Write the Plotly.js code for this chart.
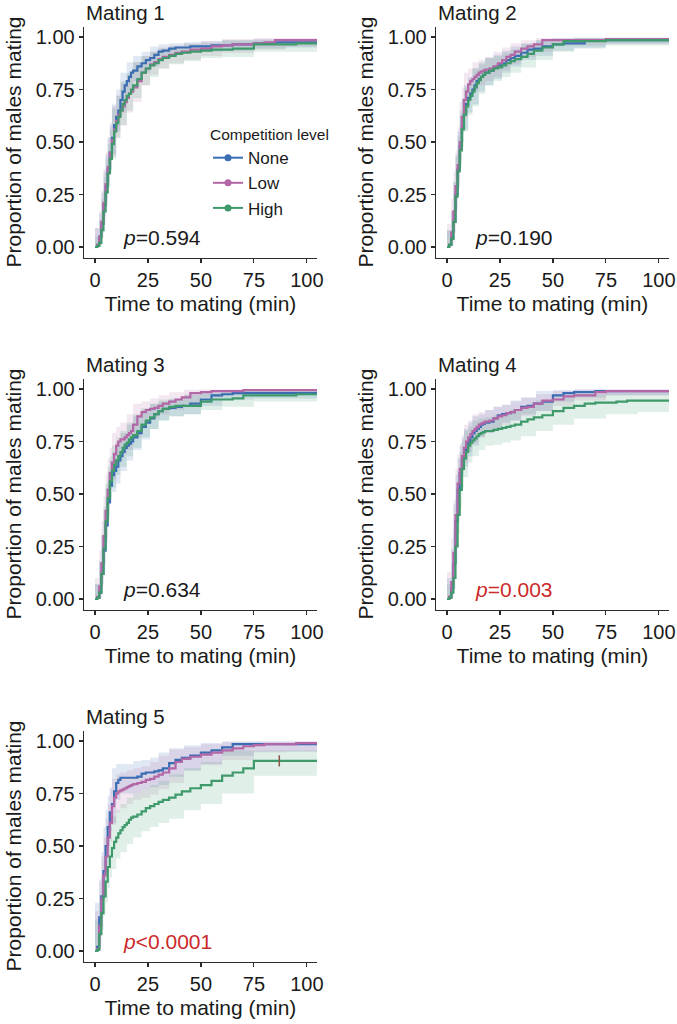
<!DOCTYPE html>
<html>
<head>
<meta charset="utf-8">
<script src="https://cdn.plot.ly/plotly-3.0.1.min.js"></script>
<style>html,body{margin:0;padding:0;background:#fff}#chart{width:677px;height:1024px}</style>
</head>
<body>
<div id="chart"></div>
<script>
// ---------- data ----------
const groups = ['None', 'Low', 'High'];
const panelTitles = ['Mating 1', 'Mating 2', 'Mating 3', 'Mating 4', 'Mating 5'];
const pTexts = ['=0.594', '=0.190', '=0.634', '=0.003', '<0.0001'];
const xTicks = [0, 25, 50, 75, 100];
const yTicks = [0, 0.25, 0.5, 0.75, 1];
const yTickText = ['0.00', '0.25', '0.50', '0.75', '1.00'];

// time grid for the step curves (min)
const T = [0,1,2,3,4,5,6,7,8,9,10,11,12,13,14,15,16,17,18,20,22,24,26,28,30,32,35,38,41,45,50,55,60,65,70,75,80,85,90,95,105];
// time grid for the confidence bands (min)
const CB = [0,2,3,4,5,6,7,8,10,12,15,18,22,26,30,35,42,50,60,75,90,105];

// Mating 1
const m1None = [0,.01,.05,.11,.2,.29,.37,.45,.52,.58,.62,.65,.70,.74,.77,.79,.81,.83,.84,.86,.875,.89,.90,.915,.93,.935,.945,.95,.95,.955,.955,.96,.96,.965,.965,.97,.97,.975,.975,.975,.975];
const m1Low  = [0,.01,.05,.12,.21,.3,.38,.45,.51,.56,.6,.63,.65,.67,.69,.71,.73,.74,.76,.79,.83,.85,.87,.88,.895,.905,.915,.925,.93,.94,.945,.955,.96,.965,.965,.97,.975,.985,.985,.985,.985];
const m1High = [0,.005,.02,.08,.17,.26,.35,.42,.49,.55,.59,.62,.65,.68,.70,.72,.73,.75,.77,.80,.83,.85,.865,.875,.89,.90,.91,.92,.925,.93,.935,.94,.94,.945,.945,.965,.965,.965,.965,.97,.97];
const m1NoneLo = [0,.02,.07,.14,.22,.29,.37,.44,.55,.64,.74,.79,.83,.86,.90,.915,.925,.93,.935,.945,.95,.95];
const m1NoneHi = [0,.09,.16,.26,.36,.44,.52,.59,.68,.75,.83,.88,.91,.93,.955,.965,.97,.975,.98,.985,.99,.99];
const m1LowLo  = [0,.02,.07,.15,.23,.31,.37,.43,.52,.58,.64,.69,.77,.82,.85,.875,.89,.91,.925,.94,.955,.955];
const m1LowHi  = [0,.09,.17,.27,.37,.45,.52,.58,.67,.72,.78,.82,.88,.91,.93,.95,.96,.97,.98,.99,.995,.995];
const m1HighLo = [0,0,.04,.11,.19,.28,.35,.42,.52,.58,.65,.71,.77,.81,.85,.87,.885,.9,.905,.93,.93,.935];
const m1HighHi = [0,.05,.13,.23,.33,.42,.49,.56,.66,.72,.79,.83,.88,.91,.93,.945,.955,.965,.97,.985,.985,.99];

// Mating 2
const m2None = [0,.01,.04,.12,.25,.37,.48,.58,.64,.68,.71,.73,.75,.77,.79,.8,.81,.82,.83,.84,.855,.865,.875,.89,.9,.91,.925,.94,.945,.955,.965,.97,.97,.985,.985,.985,.985,.985,.985,.985,.985];
const m2Low  = [0,.01,.07,.17,.29,.39,.5,.62,.7,.74,.775,.79,.8,.81,.82,.83,.835,.84,.845,.85,.86,.875,.89,.905,.915,.93,.945,.955,.965,.985,.985,.985,.985,.985,.985,.99,.99,.99,.99,.99,.99];
const m2High = [0,.01,.04,.12,.24,.36,.46,.56,.63,.67,.7,.72,.74,.76,.78,.795,.81,.82,.83,.84,.85,.855,.865,.875,.885,.895,.905,.92,.935,.95,.965,.98,.98,.98,.98,.985,.985,.985,.985,.985,.985];
const m2NoneLo = [0,.01,.07,.18,.29,.40,.5,.56,.64,.68,.74,.77,.8,.83,.86,.89,.91,.935,.945,.965,.965,.965];
const m2NoneHi = [0,.08,.17,.31,.44,.55,.65,.71,.77,.81,.85,.87,.9,.915,.935,.955,.97,.985,.99,.995,.995,.995];
const m2LowLo  = [0,.03,.11,.22,.32,.42,.54,.62,.71,.74,.77,.79,.81,.84,.87,.905,.93,.96,.96,.97,.97,.97];
const m2LowHi  = [0,.11,.23,.36,.46,.57,.69,.76,.83,.85,.88,.89,.905,.93,.95,.97,.985,.995,.995,.998,.998,.998];
const m2HighLo = [0,.01,.07,.17,.28,.38,.48,.55,.63,.67,.73,.77,.79,.81,.83,.855,.89,.93,.95,.96,.96,.96];
const m2HighHi = [0,.08,.17,.31,.43,.53,.63,.7,.76,.8,.85,.88,.9,.91,.925,.94,.965,.985,.995,.995,.995,.995];

// Mating 3
const m3None = [0,.005,.03,.12,.23,.35,.46,.54,.59,.61,.63,.66,.68,.7,.72,.73,.74,.75,.77,.79,.82,.84,.86,.88,.895,.905,.91,.915,.92,.93,.95,.97,.975,.98,.98,.98,.98,.98,.98,.98,.98];
const m3Low  = [0,.01,.06,.17,.3,.42,.52,.6,.65,.69,.73,.75,.76,.76,.77,.78,.79,.8,.83,.87,.89,.9,.905,.91,.92,.93,.94,.95,.96,.98,.985,.99,.99,.99,.995,.995,.995,.995,.995,.995,.995];
const m3High = [0,.005,.03,.12,.24,.37,.48,.56,.61,.64,.66,.68,.7,.72,.735,.745,.76,.77,.78,.8,.83,.85,.865,.88,.895,.905,.915,.92,.92,.92,.94,.95,.95,.955,.97,.97,.97,.97,.97,.975,.975];
const m3NoneLo = [0,0,.07,.16,.27,.38,.46,.51,.55,.61,.66,.71,.76,.81,.85,.87,.88,.92,.95,.955,.955,.955];
const m3NoneHi = [0,.07,.18,.3,.42,.53,.61,.66,.7,.75,.79,.83,.87,.9,.93,.94,.95,.975,.99,.995,.995,.995];
const m3LowLo  = [0,.02,.1,.22,.34,.44,.52,.57,.65,.69,.71,.77,.84,.86,.88,.9,.93,.96,.97,.975,.975,.975];
const m3LowHi  = [0,.1,.23,.37,.49,.59,.67,.72,.79,.82,.84,.88,.93,.94,.955,.97,.985,.997,.998,.999,.999,.999];
const m3HighLo = [0,0,.07,.17,.29,.4,.48,.53,.59,.63,.68,.72,.77,.81,.85,.87,.88,.9,.915,.94,.94,.945];
const m3HighHi = [0,.07,.18,.31,.44,.55,.63,.68,.73,.77,.8,.84,.88,.91,.93,.95,.955,.97,.98,.99,.99,.995];

// Mating 4
const m4None = [0,.01,.05,.17,.37,.52,.6,.66,.7,.72,.75,.77,.79,.8,.81,.82,.83,.835,.84,.845,.86,.875,.88,.885,.89,.9,.915,.92,.93,.94,.97,.98,.985,.985,.99,.99,.99,.99,.99,.99,.99];
const m4Low  = [0,.01,.08,.22,.4,.55,.62,.68,.72,.75,.77,.785,.8,.81,.82,.83,.835,.84,.845,.85,.86,.87,.875,.885,.89,.9,.91,.915,.93,.945,.95,.965,.97,.97,.985,.99,.99,.99,.99,.99,.99];
const m4High = [0,.005,.03,.1,.25,.4,.52,.62,.67,.7,.73,.745,.755,.765,.775,.785,.79,.795,.8,.8,.805,.81,.815,.82,.825,.83,.845,.855,.865,.875,.895,.91,.92,.93,.935,.935,.94,.945,.945,.945,.945];
const m4NoneLo = [0,.01,.1,.29,.44,.52,.58,.63,.68,.73,.77,.79,.81,.84,.85,.88,.895,.94,.96,.97,.97,.97];
const m4NoneHi = [0,.1,.24,.45,.59,.67,.73,.77,.81,.84,.87,.88,.9,.915,.925,.945,.96,.99,.995,.998,.998,.998];
const m4LowLo  = [0,.03,.15,.32,.47,.54,.6,.65,.7,.74,.77,.79,.81,.83,.85,.87,.895,.92,.945,.97,.97,.97];
const m4LowHi  = [0,.13,.29,.47,.62,.69,.74,.78,.83,.85,.88,.89,.9,.915,.925,.94,.96,.975,.99,.998,.998,.998];
const m4HighLo = [0,0,.05,.17,.31,.43,.53,.58,.65,.68,.71,.73,.735,.745,.755,.775,.8,.83,.86,.88,.89,.89];
const m4HighHi = [0,.07,.16,.33,.48,.6,.7,.75,.8,.82,.85,.86,.865,.875,.885,.9,.92,.945,.96,.975,.98,.98];

// Mating 5
const m5None = [0,.02,.16,.26,.38,.5,.59,.66,.7,.76,.8,.815,.825,.825,.825,.825,.825,.825,.825,.83,.845,.85,.85,.855,.86,.87,.895,.91,.92,.93,.945,.955,.97,.985,.985,.985,.985,.985,.985,.985,.985];
const m5Low  = [0,.01,.12,.25,.36,.45,.54,.61,.69,.73,.75,.76,.765,.77,.775,.78,.785,.79,.795,.8,.805,.815,.82,.83,.84,.85,.87,.9,.915,.925,.935,.945,.955,.965,.975,.98,.985,.985,.985,.99,.99];
const m5High = [0,.005,.08,.18,.26,.33,.4,.45,.49,.52,.54,.56,.575,.59,.6,.61,.625,.635,.64,.65,.665,.68,.69,.70,.71,.72,.73,.745,.76,.775,.79,.81,.835,.85,.87,.905,.905,.905,.905,.905,.905];
const m5NoneLo = [0,.09,.18,.29,.41,.5,.57,.61,.72,.75,.75,.75,.77,.78,.79,.83,.86,.89,.93,.95,.95,.95];
const m5NoneHi = [0,.23,.34,.47,.59,.67,.74,.78,.87,.89,.89,.89,.905,.91,.92,.945,.965,.98,.99,.998,.998,.998];
const m5LowLo  = [0,.06,.17,.27,.36,.45,.52,.6,.66,.68,.7,.72,.73,.745,.77,.8,.86,.885,.91,.945,.95,.96];
const m5LowHi  = [0,.19,.33,.45,.54,.63,.7,.77,.82,.84,.85,.86,.87,.88,.9,.93,.96,.97,.985,.995,.998,.998];
const m5HighLo = [0,.02,.1,.17,.23,.3,.35,.39,.44,.47,.51,.54,.57,.59,.61,.63,.67,.7,.75,.835,.835,.835];
const m5HighHi = [0,.15,.26,.35,.43,.5,.55,.59,.64,.67,.7,.73,.75,.77,.79,.81,.84,.87,.9,.955,.955,.955];
const m5HighCensorT = [87];
const m5HighCensorS = [0.905];

// ---------- assembly ----------
const curves = [
  [m1None, m1Low, m1High], [m2None, m2Low, m2High], [m3None, m3Low, m3High],
  [m4None, m4Low, m4High], [m5None, m5Low, m5High]
];
const bands = [
  [[m1NoneLo, m1NoneHi], [m1LowLo, m1LowHi], [m1HighLo, m1HighHi]],
  [[m2NoneLo, m2NoneHi], [m2LowLo, m2LowHi], [m2HighLo, m2HighHi]],
  [[m3NoneLo, m3NoneHi], [m3LowLo, m3LowHi], [m3HighLo, m3HighHi]],
  [[m4NoneLo, m4NoneHi], [m4LowLo, m4LowHi], [m4HighLo, m4HighHi]],
  [[m5NoneLo, m5NoneHi], [m5LowLo, m5LowHi], [m5HighLo, m5HighHi]]
];
const colors = ['#3b6db3', '#b367a6', '#3e9a6b'];
const fills = ['rgba(59,109,179,0.16)', 'rgba(179,103,166,0.16)', 'rgba(62,154,107,0.16)'];
const pColors = ['#1a1a1a', '#1a1a1a', '#1a1a1a', '#cc2a2a', '#cc2a2a'];

const W = 677, H = 1024;
const colPx = [[84, 317], [436, 669]];
const rowPx = [[26.5, 257.5], [378.5, 609.5], [730.5, 961.5]];
const fx = p => p / W, fy = p => 1 - p / H;

const FONT = 'Liberation Sans, Arial, Helvetica, sans-serif';
const data = [];
const layout = {
  width: W, height: H,
  margin: {l: 0, r: 0, t: 0, b: 0},
  paper_bgcolor: '#ffffff', plot_bgcolor: '#ffffff',
  font: {family: FONT, color: '#1a1a1a'},
  showlegend: true,
  legend: {
    x: fx(208), y: fy(120), xanchor: 'left', yanchor: 'top',
    bgcolor: 'rgba(0,0,0,0)',
    title: {text: 'Competition level', font: {size: 15.5, color: '#1a1a1a'}},
    font: {size: 17, color: '#1a1a1a'},
    itemwidth: 30, tracegroupgap: 0
  },
  annotations: []
};

for (let k = 0; k < 5; k++) {
  const row = Math.floor(k / 2), col = k % 2;
  const sx = k === 0 ? '' : String(k + 1);
  const xa = 'x' + sx, ya = 'y' + sx;
  const axx = 'xaxis' + sx, axy = 'yaxis' + sx;
  layout[axx] = {
    domain: [fx(colPx[col][0]), fx(colPx[col][1])], anchor: ya,
    range: [-5.2, 104.8], tickvals: xTicks, ticktext: xTicks.map(String),
    showline: true, linecolor: '#2b2b2b', linewidth: 1.3,
    ticks: 'outside', ticklen: 4, tickwidth: 1.2, tickcolor: '#2b2b2b',
    showgrid: false, zeroline: false,
    tickfont: {size: 20, color: '#1a1a1a'},
    title: {text: 'Time to mating (min)', font: {size: 21, color: '#1a1a1a'}, standoff: 6}
  };
  layout[axy] = {
    domain: [fy(rowPx[row][1]), fy(rowPx[row][0])], anchor: xa,
    range: [-0.05, 1.05], tickvals: yTicks, ticktext: yTickText,
    showline: true, linecolor: '#2b2b2b', linewidth: 1.3,
    ticks: 'outside', ticklen: 4, tickwidth: 1.2, tickcolor: '#2b2b2b',
    showgrid: false, zeroline: false,
    tickfont: {size: 20, color: '#1a1a1a'},
    title: {text: 'Proportion of males mating', font: {size: 21, color: '#1a1a1a'}, standoff: 8}
  };
  // bands
  for (let g = 0; g < 3; g++) {
    data.push({x: CB, y: bands[k][g][0], xaxis: xa, yaxis: ya, mode: 'lines',
      line: {width: 0, shape: 'hv'}, showlegend: false, hoverinfo: 'skip'});
    data.push({x: CB, y: bands[k][g][1], xaxis: xa, yaxis: ya, mode: 'lines',
      line: {width: 0, shape: 'vh'}, fill: 'tonexty', fillcolor: fills[g],
      showlegend: false, hoverinfo: 'skip'});
  }
  // curves
  for (let g = 0; g < 3; g++) {
    data.push({x: T, y: curves[k][g], xaxis: xa, yaxis: ya, mode: 'lines',
      line: {color: colors[g], width: 2.2, shape: 'hv'}, showlegend: false, name: groups[g]});
  }
  // panel title
  layout.annotations.push({
    xref: 'paper', yref: 'paper', x: fx(colPx[col][0]), y: fy(rowPx[row][0] - 14.5),
    xanchor: 'left', yanchor: 'middle', showarrow: false,
    text: panelTitles[k], font: {size: 20.5, color: '#1a1a1a'}
  });
  // p value
  layout.annotations.push({
    xref: xa, yref: ya, x: 12.3, y: 0.045, xanchor: 'left', yanchor: 'middle', showarrow: false,
    text: '<i>p</i>' + pTexts[k], font: {size: 21, color: pColors[k]}
  });
}

// censor mark (Mating 5, High)
data.push({x: m5HighCensorT, y: m5HighCensorS, xaxis: 'x5', yaxis: 'y5', mode: 'markers',
  marker: {symbol: 'line-ns-open', size: 8, line: {width: 1.5, color: colors[2]}},
  showlegend: false, hoverinfo: 'skip'});

// legend entries
for (let g = 0; g < 3; g++) {
  data.push({x: [null], y: [null], xaxis: 'x', yaxis: 'y', mode: 'lines+markers',
    name: groups[g], legendgroup: groups[g],
    line: {color: colors[g], width: 2}, marker: {color: colors[g], size: 7}});
}

Plotly.newPlot('chart', data, layout, {displayModeBar: false, staticPlot: true});
</script>
</body>
</html>
